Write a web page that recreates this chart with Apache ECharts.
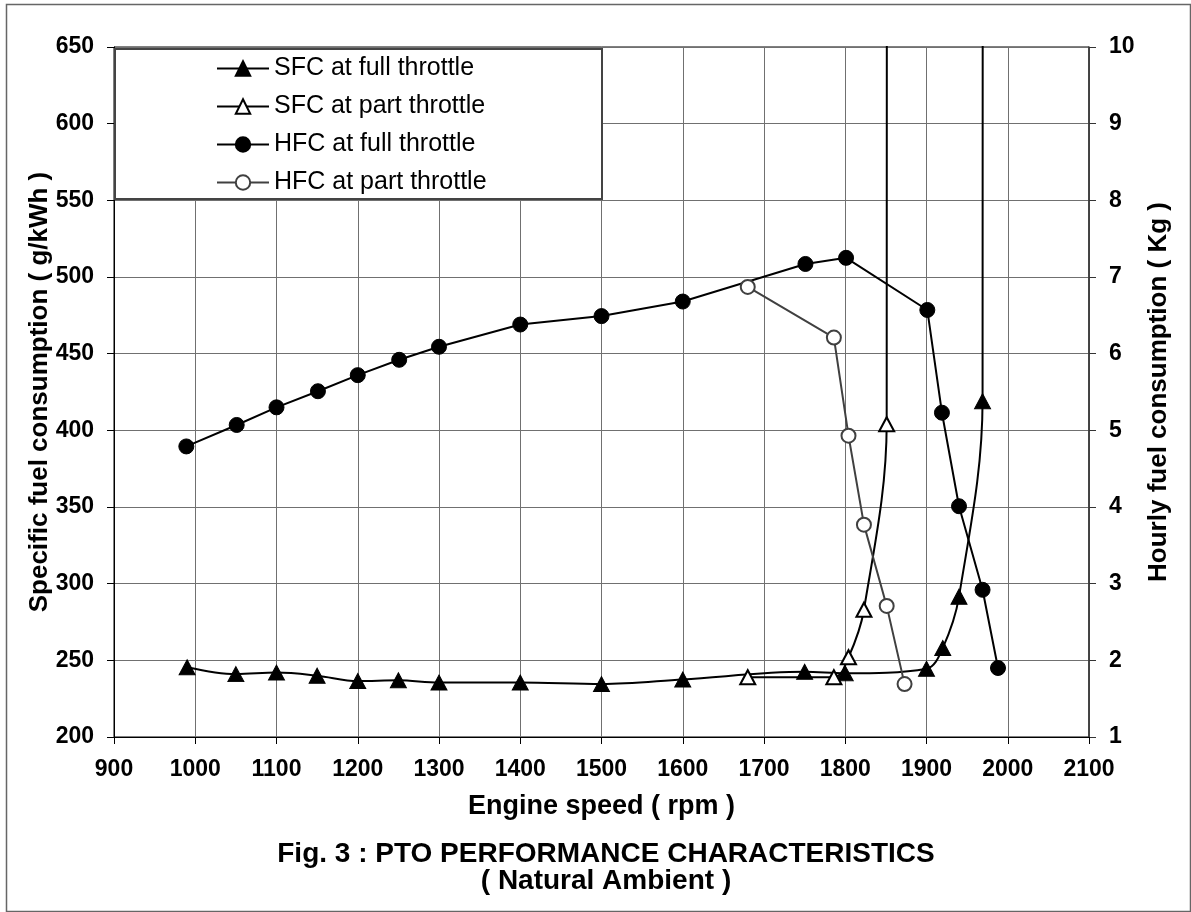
<!DOCTYPE html>
<html>
<head>
<meta charset="utf-8">
<script src="https://cdn.jsdelivr.net/npm/echarts@6/dist/echarts.min.js"></script>
<style>
html,body{margin:0;padding:0;background:#fff;}
#c{width:1191px;height:912px;}
</style>
</head>
<body>
<div id="c"></div>
<script>
// ---- data ----
const xTicks = [900, 2100, 100];        // min, max, step (rpm)
const ySfcTicks = [200, 650, 50];       // left axis g/kWh
const yHfcTicks = [1, 10, 1];           // right axis Kg

const seriesNames = ['SFC at full throttle', 'SFC at part throttle', 'HFC at full throttle', 'HFC at part throttle'];

const rpmSfcFull = [990, 1050, 1100, 1150, 1200, 1250, 1300, 1400, 1500, 1600, 1750, 1800, 1900, 1920, 1940, 1969, 1970];
const sfcFull    = [245.5, 241, 242, 240, 236.5, 237, 235.5, 235.5, 234.5, 237.5, 242.5, 241.5, 244.5, 258, 291.5, 419, 3000];

const rpmSfcPart = [1680, 1786, 1804, 1823, 1851, 1852];
const sfcPart    = [239, 239, 252, 283, 404, 3000];

const rpmHfcFull = [989, 1051, 1100, 1151, 1200, 1251, 1300, 1400, 1500, 1600, 1751, 1801, 1901, 1919, 1940, 1969, 1988];
const hfcFull    = [4.79, 5.07, 5.30, 5.51, 5.72, 5.92, 6.09, 6.38, 6.49, 6.68, 7.17, 7.25, 6.57, 5.23, 4.01, 2.92, 1.90];

const rpmHfcPart = [1680, 1786, 1804, 1823, 1851, 1873];
const hfcPart    = [6.87, 6.21, 4.93, 3.77, 2.71, 1.69];

const titleLines = ['Fig. 3 : PTO PERFORMANCE CHARACTERISTICS', '( Natural Ambient )'];
const xName = 'Engine speed ( rpm )';
const yLeftName = 'Specific fuel consumption ( g/kWh )';
const yRightName = 'Hourly fuel consumption ( Kg )';

// ---- build ----
const FONT = '"Liberation Sans", Arial, sans-serif';
function pairs(xs, ys) {
  return xs.map((x, i) => {
    const v = [x, ys[i]];
    // off-scale points (beyond the axis max) are drawn as line only
    return ys[i] > ySfcTicks[1] ? { value: v, symbol: 'none' } : v;
  });
}

const chart = echarts.init(document.getElementById('c'), null, { renderer: 'canvas' });
const tickLabel = { color: '#000', fontFamily: FONT, fontWeight: 'bold', fontSize: 23 };
const nameStyle = { fontFamily: FONT, fontWeight: 'bold', fontSize: 26, color: '#000' };

chart.setOption({
  backgroundColor: '#fff',
  animation: false,
  grid: { left: 114, right: 102, top: 47, bottom: 175, show: true, borderColor: '#000', borderWidth: 1, backgroundColor: 'transparent' },
  title: {
    text: titleLines.join('\n'),
    left: 601, top: 836, textAlign: 'center',
    textStyle: { fontFamily: FONT, fontWeight: 'bold', fontSize: 28, lineHeight: 27, color: '#000' }
  },
  legend: {
    orient: 'vertical', left: 211, top: 51,
    itemWidth: 52, itemHeight: 18, itemGap: 13,
    data: seriesNames,
    textStyle: { fontFamily: FONT, fontSize: 25, color: '#000' },
    z: 20
  },
  graphic: [
    { type: 'rect', left: 114, top: 48, z: 10, shape: { width: 487, height: 150 }, style: { fill: '#fff', stroke: '#444', lineWidth: 2 } },
    { type: 'rect', left: 4, top: 2, z: 0, silent: true, shape: { width: 1184, height: 907 }, style: { fill: 'none', stroke: '#666', lineWidth: 1.5 } }
  ],
  xAxis: {
    type: 'value', min: xTicks[0], max: xTicks[1], interval: xTicks[2],
    name: xName, nameLocation: 'middle', nameGap: 56, nameMoveOverlap: false,
    nameTextStyle: Object.assign({}, nameStyle, { fontSize: 27 }),
    axisLine: { onZero: false, lineStyle: { color: '#000', width: 1 } },
    axisTick: { inside: false, length: 7, lineStyle: { color: '#000' } },
    axisLabel: Object.assign({ margin: 21, formatter: v => String(v) }, tickLabel),
    splitLine: { show: true, lineStyle: { color: '#707070', width: 1 } }
  },
  yAxis: [
    {
      type: 'value', min: ySfcTicks[0], max: ySfcTicks[1], interval: ySfcTicks[2], position: 'left',
      name: yLeftName, nameLocation: 'middle', nameGap: 61, nameRotate: 90, nameMoveOverlap: false,
      nameTextStyle: nameStyle,
      axisLine: { show: true, onZero: false, lineStyle: { color: '#000', width: 1 } },
      axisTick: { show: true, length: 7, lineStyle: { color: '#000' } },
      axisLabel: Object.assign({ margin: 20, formatter: v => String(v) }, tickLabel),
      splitLine: { show: true, lineStyle: { color: '#707070', width: 1 } }
    },
    {
      type: 'value', min: yHfcTicks[0], max: yHfcTicks[1], interval: yHfcTicks[2], position: 'right',
      name: yRightName, nameLocation: 'middle', nameGap: 56, nameRotate: 90,
      nameTextStyle: nameStyle,
      axisLine: { show: true, onZero: false, lineStyle: { color: '#333', width: 1.5 } },
      axisTick: { show: true, length: 7, lineStyle: { color: '#333' } },
      axisLabel: Object.assign({ margin: 20 }, tickLabel),
      splitLine: { show: false }
    }
  ],
  series: [
    {
      name: seriesNames[0], type: 'line', yAxisIndex: 0, smooth: 0.35, clip: true,
      data: pairs(rpmSfcFull, sfcFull),
      symbol: 'triangle', symbolSize: [16, 15],
      lineStyle: { color: '#000', width: 2 },
      itemStyle: { color: '#000', borderColor: '#000', borderWidth: 1 }
    },
    {
      name: seriesNames[1], type: 'line', yAxisIndex: 0, smooth: 0.35, clip: true,
      data: pairs(rpmSfcPart, sfcPart),
      symbol: 'triangle', symbolSize: [15, 14],
      lineStyle: { color: '#000', width: 2 },
      itemStyle: { color: '#fff', borderColor: '#000', borderWidth: 2 }
    },
    {
      name: seriesNames[2], type: 'line', yAxisIndex: 1, clip: true,
      data: pairs(rpmHfcFull, hfcFull),
      symbol: 'circle', symbolSize: 15,
      lineStyle: { color: '#000', width: 2 },
      itemStyle: { color: '#000', borderColor: '#000', borderWidth: 1 }
    },
    {
      name: seriesNames[3], type: 'line', yAxisIndex: 1, clip: true,
      data: pairs(rpmHfcPart, hfcPart),
      symbol: 'circle', symbolSize: 14,
      lineStyle: { color: '#404040', width: 2 },
      itemStyle: { color: '#fff', borderColor: '#404040', borderWidth: 2 }
    }
  ]
});
</script>
</body>
</html>
